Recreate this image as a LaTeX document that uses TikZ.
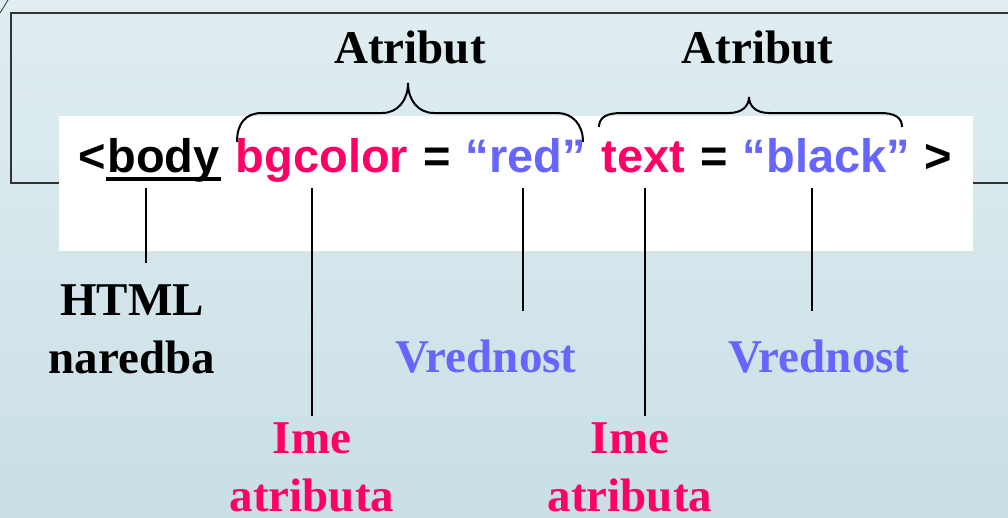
\documentclass[tikz,border=0pt]{standalone}
\usepackage{fontspec}
\setmainfont{Liberation Serif}
\newfontfamily\codefont{Liberation Sans}
\definecolor{attrpink}{HTML}{FF0066}
\definecolor{valblue}{HTML}{6666FF}
\definecolor{bgtop}{HTML}{E0EDF1}
\definecolor{bgbot}{HTML}{C9DFE5}
\definecolor{framegray}{HTML}{333333}
\begin{document}
\begin{tikzpicture}[x=1pt,y=-1pt,
  code/.style={inner sep=0pt, anchor=base, font=\codefont\bfseries\fontsize{47}{52}\selectfont},
  lbl/.style={inner sep=0pt, anchor=base, align=center, font=\bfseries\fontsize{47}{58}\selectfont},
  conn/.style={draw=black, line width=2pt},
  bracepath/.style={draw=black, line width=2pt},
]
\useasboundingbox (0,0) rectangle (1008,517);
% background
\shade[top color=bgtop, bottom color=bgbot] (0,0) rectangle (1008,517);
\draw[framegray, line width=0.8pt] (0,13) -- (8,0);
% frame rectangle (extends past right edge)
\draw[framegray, line width=1.6pt] (1020,13) -- (11,13) -- (11,183) -- (1020,183);
% white code box
\fill[white] (59,116) rectangle (973,251);
% code words
\node[code] (lt) at (92,172) {<};
\node[code] (body) at (163.5,172) {body};
\node[code, text=attrpink] (bgcolor) at (322,172) {bgcolor};
\node[code] (eqa) at (437.5,172) {=};
\node[code, text=valblue] (red) at (526,172) {“red”};
\node[code, text=attrpink] (textw) at (643.5,172) {text};
\node[code] (eqb) at (714.5,172) {=};
\node[code, text=valblue] (black) at (826.5,172) {“black”};
\node[code] (gt) at (938.5,172) {>};
% underline of body
\fill[black] (106,177) rectangle (221,181);
% braces
\draw[bracepath] (237,142) .. controls (237,124) and (245,113) .. (262,113) -- (382,113)
  .. controls (398,113) and (408,100) .. (408,83)
  .. controls (408,100) and (418,113) .. (434,113) -- (557,113)
  .. controls (572,113) and (583,124) .. (583,142);
\draw[bracepath] (599,127) .. controls (599,117) and (607,113) .. (622,113) -- (729,113)
  .. controls (742,113) and (749,106) .. (749,97)
  .. controls (749,106) and (756,113) .. (769,113) -- (880,113)
  .. controls (894,113) and (902,117) .. (902,127);
% brace labels
\node[lbl] (atra) at (410,63) {Atribut};
\node[lbl] (atrb) at (757.5,63) {Atribut};
% bottom labels
\node[lbl, anchor=north] (html) at (132,285) {HTML\\naredba};
\node[lbl, text=valblue] (vala) at (486,372) {Vrednost};
\node[lbl, text=valblue] (valb) at (819,372) {Vrednost};
\node[lbl, text=attrpink, anchor=north] (imea) at (312,423) {Ime\\atributa};
\node[lbl, text=attrpink, anchor=north] (imeb) at (630,423) {Ime\\atributa};
% connector end points
\coordinate (c1t) at (146,188); \coordinate (c1b) at (146,263);
\coordinate (c2t) at (312,188); \coordinate (c2b) at (312,416);
\coordinate (c3t) at (523,188); \coordinate (c3b) at (523,311);
\coordinate (c4t) at (645,188); \coordinate (c4b) at (645,416);
\coordinate (c5t) at (812,188); \coordinate (c5b) at (812,311);
\draw[conn] (c1t) -- (c1b);
\draw[conn] (c2t) -- (c2b);
\draw[conn] (c3t) -- (c3b);
\draw[conn] (c4t) -- (c4b);
\draw[conn] (c5t) -- (c5b);
\end{tikzpicture}
\end{document}
